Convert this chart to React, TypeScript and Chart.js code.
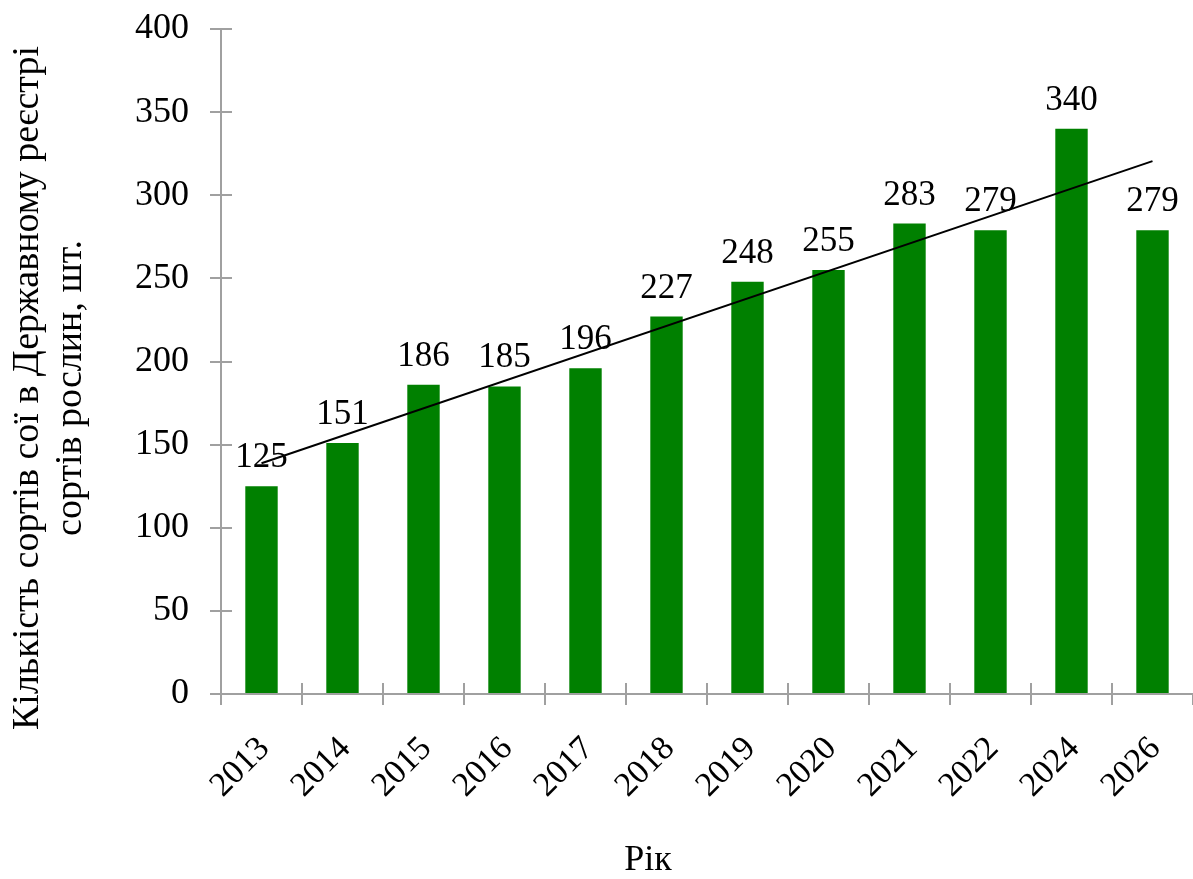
import React, { useEffect, useRef } from "react";
import { Chart, registerables } from "chart.js";

Chart.register(...registerables);

const categories = ["2013", "2014", "2015", "2016", "2017", "2018", "2019", "2020", "2021", "2022", "2024", "2026"];
const varieties = [125, 151, 186, 185, 196, 227, 248, 255, 283, 279, 340, 279];
// linear trend line: value at first and last category
const trendValues = [138.8, null, null, null, null, null, null, null, null, null, null, 320.5];
const yTitleLines = ["Кількість сортів сої в Державному реєстрі", "сортів рослин, шт."];
const xTitle = "Рік";

const FONT = "'Liberation Serif', 'Times New Roman', serif";
const AXIS_COLOR = "#a0a0a0";

const overlayPlugin = {
  id: "overlay",
  afterDatasetsDraw(chart: any) {
    const ctx = chart.ctx;
    const meta = chart.getDatasetMeta(0);
    ctx.save();
    ctx.font = `35px ${FONT}`;
    ctx.fillStyle = "#000";
    ctx.textAlign = "center";
    ctx.textBaseline = "alphabetic";
    meta.data.forEach((el: any, i: number) => {
      ctx.fillText(String(varieties[i]), el.x, el.y - 19);
    });
    ctx.restore();
  },
  afterDraw(chart: any) {
    const ctx = chart.ctx;
    const area = chart.chartArea;
    const xs = chart.scales.x;
    const ys = chart.scales.y;
    ctx.save();
    // inner halves of crossing tick marks
    ctx.strokeStyle = AXIS_COLOR;
    ctx.lineWidth = 2;
    ctx.beginPath();
    ys.ticks.forEach((t: any) => {
      const y = Math.round(ys.getPixelForValue(t.value));
      ctx.moveTo(area.left, y);
      ctx.lineTo(area.left + 11, y);
    });
    for (let i = 1; i < categories.length; i++) {
      const x = Math.round((xs.getPixelForValue(i - 1) + xs.getPixelForValue(i)) / 2);
      ctx.moveTo(x, area.bottom);
      ctx.lineTo(x, area.bottom - 11);
    }
    ctx.stroke();
    // axis titles
    ctx.fillStyle = "#000";
    ctx.font = `36px ${FONT}`;
    ctx.textAlign = "center";
    ctx.textBaseline = "middle";
    ctx.fillText(xTitle, 648, 861);
    ctx.font = `38px ${FONT}`;
    ctx.textBaseline = "alphabetic";
    ctx.translate(0, 388);
    ctx.rotate(-Math.PI / 2);
    ctx.fillText(yTitleLines[0], 0, 38);
    ctx.fillText(yTitleLines[1], 0, 81);
    ctx.restore();
  },
};

export default function App() {
  const ref = useRef<HTMLCanvasElement | null>(null);
  useEffect(() => {
    if (!ref.current) return;
    const chart = new Chart(ref.current, {
      type: "bar",
      data: {
        labels: categories,
        datasets: [
          {
            type: "bar",
            data: varieties,
            backgroundColor: "#008000",
            barPercentage: 0.4,
            categoryPercentage: 1,
            order: 2,
          } as any,
          {
            type: "line",
            data: trendValues,
            borderColor: "#000",
            borderWidth: 2,
            pointRadius: 0,
            spanGaps: true,
            fill: false,
            order: 1,
          } as any,
        ],
      },
      options: {
        responsive: false,
        animation: false,
        layout: { padding: { top: 29, left: 0, right: 0, bottom: 0 } },
        plugins: { legend: { display: false }, tooltip: { enabled: false }, title: { display: false } },
        scales: {
          x: {
            type: "category",
            offset: true,
            grid: { offset: true, drawOnChartArea: false, drawTicks: true, tickLength: 11, color: AXIS_COLOR, lineWidth: 2 },
            border: { color: AXIS_COLOR, width: 2 },
            ticks: {
              color: "#000",
              font: { family: FONT, size: 34 },
              minRotation: 45,
              maxRotation: 45,
              padding: 24,
              labelOffset: 3,
              autoSkip: false,
            },
            afterFit(scale: any) {
              scale.height = 185;
              scale.paddingLeft = 0;
              scale.paddingRight = 0;
            },
          },
          y: {
            min: 0,
            max: 400,
            grid: { drawOnChartArea: false, drawTicks: true, tickLength: 11, color: AXIS_COLOR, lineWidth: 2 },
            border: { color: AXIS_COLOR, width: 2 },
            ticks: {
              stepSize: 50,
              color: "#000",
              font: { family: FONT, size: 36 },
              padding: 21,
            },
            afterFit(scale: any) {
              scale.width = 221;
              scale.paddingTop = 0;
              scale.paddingBottom = 0;
            },
          },
        },
      } as any,
      plugins: [overlayPlugin],
    });
    return () => chart.destroy();
  }, []);
  return (
    <div style={{ position: "absolute", left: 0, top: 0, width: 1193, height: 879, background: "#fff" }}>
      <canvas ref={ref} width={1193} height={879} />
    </div>
  );
}
